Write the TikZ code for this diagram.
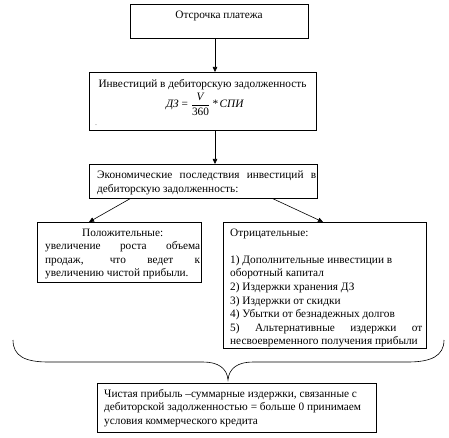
\documentclass[tikz,border=0pt]{standalone}
\usepackage{fontspec}
\setmainfont{Liberation Serif}
\usetikzlibrary{arrows.meta}
\begin{document}
\begin{tikzpicture}[x=1pt,y=-1pt,
  font=\fontsize{11.3}{13.6}\selectfont,
  box/.style={draw, line width=0.75pt, inner sep=0pt, anchor=north west},
  arr/.style={-{Triangle[length=5pt,width=4.5pt]}, line width=0.6pt},
  txt/.style={inner sep=0pt, anchor=north west},
  brace/.style={line width=0.6pt}]
\useasboundingbox (0,0) rectangle (449,438);

% boxes
\node[box, minimum width=178pt, minimum height=34pt] (b1) at (130,4) {};
\node[box, minimum width=227pt, minimum height=58pt] (b2) at (89,72) {};
\node[box, minimum width=228pt, minimum height=34pt] (b3) at (89,164) {};
\node[box, minimum width=164pt, minimum height=60pt] (b4) at (37,222) {};
\node[box, minimum width=203pt, minimum height=126pt] (b5) at (223,222) {};
\node[box, minimum width=279pt, minimum height=49pt] (b6) at (97,383) {};

% texts
\node[inner sep=0pt, anchor=north] (t1) at (219,10.5) {Отсрочка платежа};
\node[inner sep=0pt, anchor=north] (t2) at (202.5,79) {Инвестиций в дебиторскую задолженность};
\node[inner sep=0pt] (t2f) at (205,104) {\textit{ДЗ} = $\displaystyle\frac{\mbox{\textit{V}}}{\mbox{360}}$\,\textit{*\,СПИ}};
\node[inner sep=0pt, font=\fontsize{6}{7}\selectfont] (t2d) at (96,125) {.};
\node[txt, text width=219pt, align=justify] (t3) at (97,171)
  {Экономические последствия инвестиций в\linebreak дебиторскую задолженность:};
\node[txt, text width=155pt, align=justify] (t4) at (45,228.5)
  {{\centering Положительные:\par}увеличение роста объема\linebreak продаж, что ведет к\linebreak увеличению чистой прибыли.};
\node[txt, text width=192pt, align=justify] (t5) at (230,228.5)
  {Отрицательные:\\ \mbox{}\\
   1) Дополнительные инвестиции в\\
   оборотный капитал\\
   2) Издержки хранения ДЗ\\
   3) Издержки от скидки\\
   4) Убытки от безнадежных долгов\\
   5) Альтернативные издержки от\linebreak
   несвоевременного получения прибыли};
\node[txt, align=left] (t6) at (104,389)
  {Чистая прибыль –суммарные издержки, связанные с\\
   дебиторской задолженностью = больше 0 принимаем\\
   условия коммерческого кредита};

% connectors
\coordinate (ax) at (215,0);
\draw[arr] (b1.south -| ax) -- (b2.north -| ax);
\draw[arr] (b2.south -| ax) -- (b3.north -| ax);
\draw[arr] ([xshift=41pt]b3.south west) -- ([xshift=52pt]b4.north west);
\draw[arr] ([xshift=184pt]b3.south west) -- ([xshift=100pt]b5.north west);

% brace
\coordinate (bl) at (13,340);
\coordinate (br) at (444,340);
\coordinate (cusp) at (228,380);
\draw[brace] (bl) .. controls (13,356) and (25,362) .. (48,362) -- (203,362)
  .. controls (218,362) and (227,368) .. (cusp)
  .. controls (229,368) and (238,362) .. (253,362) -- (408,362)
  .. controls (431,362) and (444,356) .. (br);
\end{tikzpicture}
\end{document}
